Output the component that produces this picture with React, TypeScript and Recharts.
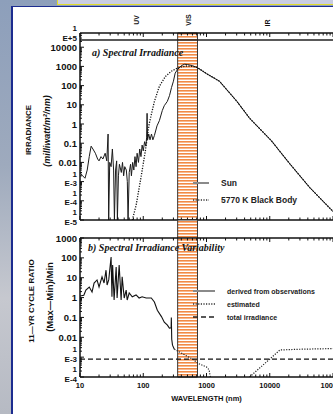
import React from 'react';
import { LineChart, Line, XAxis, YAxis, ReferenceArea, ReferenceLine, Legend, Label } from 'recharts';

type Pt = [number, number];

// a) spectral irradiance: wavelength (nm), irradiance (mW/m2/nm)
const sunSpectrum: Pt[] = [
  [10, 0.003], [11, 0.002], [12, 0.0015], [13, 0.004], [14, 0.02], [15, 0.07], [16, 0.05],
  [17.5, 0.03], [19, 0.015], [20, 0.012], [21.5, 0.02], [23, 0.015], [25, 0.03], [26.5, 0.012],
  [27.8, 0.3], [28.4, 0.00001], [29.5, 0.01], [31, 0.006], [32.5, 0.05], [34, 0.004], [35, 0.00001],
  [36.5, 0.004], [38, 0.012], [39, 0.00001], [40.5, 0.002], [42, 0.008], [45, 0.003], [47, 0.01],
  [49, 0.002], [51, 0.006], [54, 0.004], [56, 0.001], [57.5, 0.00001], [60, 0.003], [63, 0.008],
  [65, 0.002], [68, 0.01], [71, 0.004], [74, 0.02], [77, 0.006], [80, 0.03], [84, 0.01], [88, 0.05],
  [92, 0.02], [96, 0.08], [100, 0.04], [105, 0.12], [110, 0.07], [113, 0.2], [115, 3.6], [117, 0.15],
  [122, 0.3], [128, 0.15], [135, 0.3], [142, 0.15], [150, 0.25], [165, 0.8], [180, 1.5], [200, 5],
  [215, 9], [240, 15], [260, 30], [280, 80], [300, 170], [320, 450], [350, 700], [400, 1100],
  [450, 1300], [500, 1250], [600, 1100], [720, 850], [1000, 420], [1600, 170], [3000, 15.6],
  [4800, 2], [10700, 0.13], [20700, 0.0085], [43100, 0.00048], [96000, 0.000032], [100000, 0.000027],
];

const blackBody: Pt[] = [
  [67, 0.00001], [77, 0.000056], [93, 0.002], [108, 0.04], [124, 1], [150, 15], [180, 93],
  [224, 300], [278, 560], [330, 750], [400, 950], [480, 1050], [600, 1000], [720, 880],
  [1000, 420], [1600, 170], [3000, 15.6], [4800, 2], [10700, 0.13], [20700, 0.0085],
  [43100, 0.00048], [96000, 0.000032], [100000, 0.000027],
];

// b) 11-yr cycle ratio (Max-Min)/Min
const observedRatio: Pt[] = [
  [10, 1.2], [11.5, 1.3], [12.4, 2.4], [14, 3.4], [15.5, 1.9], [16.7, 5.4], [18.6, 7.7], [20, 3.4],
  [22.3, 11], [24, 5.4], [25.8, 24], [26.8, 4.3], [28.5, 8], [31, 110], [32, 1.1], [32.8, 44],
  [34.6, 0.75], [37.3, 35], [38.6, 0.95], [41.6, 44], [44.7, 0.75], [46.4, 11], [50, 0.95],
  [53.7, 2.4], [55.7, 0.75], [60, 1.7], [67, 1.1], [77, 1.35], [86, 0.95], [96, 1.1], [111, 0.95],
  [134, 0.95], [150, 0.6], [167, 0.23], [194, 0.11], [215, 0.058], [241, 0.041], [259, 0.029],
  [276, 0.03], [278, 0.1], [282, 0.008], [290, 0.004], [310, 0.0025],
];
const estimatedVis: Pt[] = [
  [310, 0.0025], [450, 0.0013], [600, 0.0008], [760, 0.00046], [1000, 0.00032], [1100, 0.00023], [1150, 0.0001],
];
const estimatedIr: Pt[] = [[4800, 0.0001], [14500, 0.0023], [30000, 0.0025], [100000, 0.0027]];
const totalIrradiance: Pt[] = [[10, 0.0008], [100000, 0.0008]];

const visBand = [350, 720];
const xDecades = [10, 100, 1000, 10000, 100000];
const yDecadesA = [1e-5, 1e-4, 1e-3, 0.01, 0.1, 1, 10, 100, 1000, 10000];
const yDecadesB = [1e-4, 1e-3, 0.01, 0.1, 1, 10, 100, 1000];

// top of panel a sits a bit under 1E+5 in the scan
const yTopA = 55000;
const boxLineA = 23700;
const bandTopB = 8050;

const legendA = [
  { label: 'Sun', color: '#8a8a8a', width: 2 },
  { label: '5770 K Black Body', color: '#333', width: 1.3, dash: '1.2 1.4' },
];
const legendB = [
  { label: 'derived from observations', color: '#8a8a8a', width: 2 },
  { label: 'estimated', color: '#333', width: 1.3, dash: '1.2 1.4' },
  { label: 'total irradiance', color: '#222', width: 1.3, dash: '5 3' },
];

const toRows = (pts: Pt[]) => pts.map(([w, v]) => ({ w, v }));
const withMinor = (decades: number[], max: number) =>
  decades.flatMap((d) => [1, 2, 3, 4, 5, 6, 7, 8, 9].map((m) => d * m)).filter((v) => v <= max * 1.0001);
const isMajor = (v: number) => Math.abs(Math.log10(v) - Math.round(Math.log10(v))) < 1e-6;

const xTicks = withMinor(xDecades, 100000);
const yTicksA = withMinor(yDecadesA, yTopA);
const yTicksB = withMinor(yDecadesB, 1000);

const FONT = '"Liberation Sans", Arial, sans-serif';

const XTick = (props: any) => {
  const { x, y, payload, dir, showLabel } = props;
  const major = isMajor(payload.value);
  const len = major ? 4 : 2.5;
  return (
    <g>
      <line x1={x} x2={x} y1={y} y2={y + dir * len} stroke="#111" strokeWidth={1} />
      {showLabel && major && (
        <text x={x} y={y + 8} textAnchor="middle" dominantBaseline="central" fontFamily={FONT}
          fontWeight="bold" fontSize={7.5} fill="#111">
          {payload.value}
        </text>
      )}
    </g>
  );
};

const YTick = (props: any) => {
  const { x, y, payload } = props;
  const v = payload.value;
  const major = isMajor(v);
  const len = major ? 4 : 2;
  const common = { textAnchor: 'end' as const, fontFamily: FONT, fontWeight: 'bold', fill: '#111', dominantBaseline: 'central' as const };
  return (
    <g>
      <line x1={x} x2={x + len} y1={y} y2={y} stroke="#111" strokeWidth={1} />
      {major && v >= 0.01 && <text x={x - 3} y={y} fontSize={9.5} {...common}>{String(v)}</text>}
      {major && v < 0.01 && (
        <text x={x - 3} y={y - 8} fontSize={8} {...common}>
          <tspan x={x - 3}>1</tspan>
          <tspan x={x - 3} dy={9.5}>{'E' + Math.round(Math.log10(v))}</tspan>
        </text>
      )}
    </g>
  );
};

const TitleA = (props: any) => {
  const vb = props.viewBox || { x: 20, y: 33, width: 60, height: 187 };
  const cy = vb.y + vb.height / 2;
  const r = vb.x + vb.width - 3;
  return (
    <g fontFamily={FONT} fontWeight="bold" fill="#111">
      <text transform={`translate(${vb.x + 8},${cy + 3.5}) rotate(-90)`} textAnchor="middle" dominantBaseline="central" fontSize={8}>
        IRRADIANCE
      </text>
      <text transform={`translate(${vb.x + 27},${cy + 4.5}) rotate(-90)`} textAnchor="middle" dominantBaseline="central" fontSize={9} fontStyle="italic">
        (milliwatt/m²/nm)
      </text>
      <text x={r} y={vb.y - 5} textAnchor="end" dominantBaseline="central" fontSize={8}>
        <tspan x={r}>1</tspan>
        <tspan x={r} dy={9.5}>E+5</tspan>
      </text>
    </g>
  );
};

const TitleB = (props: any) => {
  const vb = props.viewBox || { x: 20, y: 238, width: 60, height: 139 };
  const cy = vb.y + vb.height / 2;
  return (
    <g fontFamily={FONT} fontWeight="bold" fill="#111">
      <text transform={`translate(${vb.x + 11},${cy - 6.5}) rotate(-90)`} textAnchor="middle" dominantBaseline="central" fontSize={8}>
        11—YR CYCLE RATIO
      </text>
      <text transform={`translate(${vb.x + 29},${cy - 10.5}) rotate(-90)`} textAnchor="middle" dominantBaseline="central" fontSize={9.5}>
        (Max—Min)/Min
      </text>
    </g>
  );
};

const LegendBox = ({ items, sampleW, rowH, fontSize }: any) => (
  <div style={{ fontFamily: FONT, fontWeight: 'bold', fontSize, color: '#222' }}>
    {items.map((it: any) => (
      <div key={it.label} style={{ display: 'flex', alignItems: 'center', height: rowH, whiteSpace: 'nowrap' }}>
        <svg width={sampleW} height={6}>
          <line x1={0} x2={sampleW} y1={3} y2={3} stroke={it.color} strokeWidth={it.width} strokeDasharray={it.dash} />
        </svg>
        <span style={{ marginLeft: 12 }}>{it.label}</span>
      </div>
    ))}
  </div>
);

const Stripes = ({ id }: { id: string }) => (
  <defs>
    <pattern id={id} width="6" height="3" patternUnits="userSpaceOnUse">
      <rect width="6" height="3" fill="#fff" />
      <rect width="6" height="1.6" fill="#f28a45" />
    </pattern>
  </defs>
);

const axisLine = { stroke: '#111', strokeWidth: 1.5 };

const App: React.FC = () => {
  const xCommon = {
    type: 'number' as const, dataKey: 'w', scale: 'log' as const, domain: [10, 100000], allowDataOverflow: true,
    ticks: xTicks, interval: 0, tickSize: 0, tickMargin: 0, tickLine: false, axisLine,
  };
  return (
    <div style={{
      position: 'fixed', left: 0, top: 0, width: 333, height: 414, overflow: 'hidden',
      background: 'linear-gradient(180deg, #8d9fbb 0%, #9eaabd 40%, #c6c8cf 72%, #b6bac3 100%)',
    }}>
      <div style={{ position: 'absolute', left: 57, top: -3, width: 300, height: 6, border: '1.5px solid #e2dc2a', background: '#c9cde2' }} />
      <div style={{ position: 'absolute', left: 11, top: 6, width: 340, height: 420, background: '#fff', borderLeft: '2px solid #1c2c8f', borderTop: '1.5px solid #1c2c8f' }} />

      <div style={{ position: 'absolute', left: 0, top: 0 }}>
        <LineChart width={340} height={230} margin={{ top: 23, right: 7, bottom: 0, left: 20 }}>
          <Stripes id="visA" />
          <XAxis {...xCommon} xAxisId="top" orientation="top" height={10} tick={<XTick dir={1} />} />
          <XAxis {...xCommon} height={10} tick={<XTick dir={-1} />} />
          <YAxis scale="log" domain={[1e-5, yTopA]} allowDataOverflow ticks={yTicksA} interval={0} width={60}
            tickSize={0} tickMargin={0} tickLine={false} axisLine={axisLine} tick={<YTick />}>
            <Label content={<TitleA />} />
          </YAxis>
          <ReferenceArea x1={visBand[0]} x2={visBand[1]} y1={1e-5} y2={yTopA} fill="url(#visA)" fillOpacity={1}
            stroke="#333" strokeWidth={1} ifOverflow="visible" />
          <ReferenceLine y={boxLineA} stroke="#222" strokeWidth={1.5} />
          <Line data={toRows(sunSpectrum)} dataKey="v" name="Sun" type="linear" stroke="#1b1b1b" strokeWidth={1}
            dot={false} isAnimationActive={false} />
          <Line data={toRows(blackBody)} dataKey="v" name="5770 K Black Body" type="linear" stroke="#111" strokeWidth={1.3}
            strokeDasharray="1.2 1.4" dot={false} isAnimationActive={false} />
          <Legend layout="vertical" align="center" verticalAlign="middle"
            wrapperStyle={{ left: 193, top: 174.5, width: 130 }}
            content={() => <LegendBox items={legendA} sampleW={16} rowH={17} fontSize={8.5} />} />
        </LineChart>
      </div>

      <div style={{ position: 'absolute', left: 0, top: 215 }}>
        <LineChart width={340} height={191} margin={{ top: 13, right: 7, bottom: 5, left: 20 }}>
          <Stripes id="visB" />
          <XAxis {...xCommon} xAxisId="top" orientation="top" height={10} tick={<XTick dir={1} />} />
          <XAxis {...xCommon} height={24} tick={<XTick dir={-1} showLabel />}>
            <Label value="WAVELENGTH (nm)" position="insideBottom" offset={0}
              style={{ fontFamily: FONT, fontWeight: 'bold', fontSize: 7.5, fill: '#111' }} />
          </XAxis>
          <YAxis scale="log" domain={[1e-4, 1000]} allowDataOverflow ticks={yTicksB} interval={0} width={60}
            tickSize={0} tickMargin={0} tickLine={false} axisLine={axisLine} tick={<YTick />}>
            <Label content={<TitleB />} />
          </YAxis>
          <ReferenceArea x1={visBand[0]} x2={visBand[1]} y1={1e-4} y2={bandTopB} fill="url(#visB)" fillOpacity={1}
            stroke="#333" strokeWidth={1} ifOverflow="visible" />
          <Line data={toRows(totalIrradiance)} dataKey="v" name="total irradiance" stroke="#111" strokeWidth={1.2}
            strokeDasharray="5 3" dot={false} isAnimationActive={false} />
          <Line data={toRows(observedRatio)} dataKey="v" name="derived from observations" stroke="#111" strokeWidth={1.1}
            dot={false} isAnimationActive={false} />
          <Line data={toRows(estimatedVis)} dataKey="v" name="estimated" stroke="#222" strokeWidth={1.2}
            strokeDasharray="1.2 1.4" dot={false} isAnimationActive={false} />
          <Line data={toRows(estimatedIr)} dataKey="v" name="estimated IR" stroke="#222" strokeWidth={1.2}
            strokeDasharray="1.2 1.4" dot={false} isAnimationActive={false} />
          <Legend layout="vertical" align="center" verticalAlign="middle"
            wrapperStyle={{ left: 193, top: 69.5, width: 135 }}
            content={() => <LegendBox items={legendB} sampleW={22} rowH={13} fontSize={7} />} />
        </LineChart>
      </div>

      <div style={{ position: 'absolute', left: 92, top: 47, fontFamily: '"Liberation Serif", serif', fontStyle: 'italic', fontWeight: 'bold', fontSize: 10, color: '#111', whiteSpace: 'nowrap' }}>
        a) Spectral Irradiance
      </div>
      <div style={{ position: 'absolute', left: 88, top: 242, fontFamily: '"Liberation Serif", serif', fontStyle: 'italic', fontWeight: 'bold', fontSize: 10, color: '#111', whiteSpace: 'nowrap' }}>
        b) Spectral Irradiance Variability
      </div>
      {[['UV', 136, 20], ['VIS', 188, 20], ['IR', 267, 23]].map(([t, x, y]) => (
        <div key={t as string} style={{
          position: 'absolute', left: x as number, top: y as number, transform: 'translate(-50%, -50%) rotate(-90deg)',
          fontFamily: FONT, fontWeight: 'bold', fontSize: 7, color: '#111',
        }}>{t}</div>
      ))}
    </div>
  );
};

export default App;
